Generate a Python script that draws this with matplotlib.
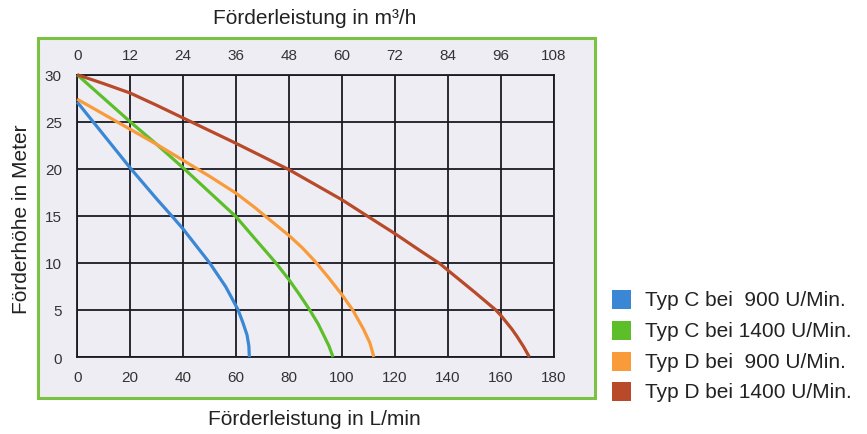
import matplotlib
matplotlib.use("Agg")
import matplotlib.pyplot as plt
from matplotlib.patches import Rectangle

plt.rcParams['font.family'] = ['Liberation Sans', 'DejaVu Sans']

# Förderleistung (L/min) and Förderhöhe (m)
blue_x = [0, 10, 20, 30, 36, 40, 45, 50, 53, 56, 58.5, 60.75, 62.5, 64.1, 64.8, 65]
blue_y = [27.1, 23.6, 20.1, 16.8, 14.9, 13.6, 11.8, 10.0, 8.75, 7.5, 6.2, 5.0, 3.7, 2.36, 1.2, 0]

green_x = [0, 10, 20, 30, 40, 50, 60, 67, 75, 80, 84, 88, 91, 93.1, 95, 96.6]
green_y = [30, 27.5, 25.0, 22.6, 20.1, 17.5, 14.9, 12.6, 10.0, 8.2, 6.6, 4.9, 3.5, 2.3, 1.2, 0]

orange_x = [0, 10, 20, 30, 40, 50, 60, 67, 70, 80, 85, 90, 95, 100, 104, 108, 110.5, 112]
orange_y = [27.4, 25.8, 24.2, 22.6, 20.9, 19.2, 17.4, 15.9, 15.2, 12.9, 11.6, 10.1, 8.4, 6.6, 5.0, 3.0, 1.5, 0]

brown_x = [0, 10, 20, 30, 40, 50, 60, 70, 80, 90, 100, 109.4, 120, 130, 137, 140,
           150, 158, 160, 164, 166, 168.5, 170.7]
brown_y = [30, 29.05, 28.05, 26.75, 25.4, 24.05, 22.7, 21.3, 19.9, 18.3, 16.7, 15.0, 13.1,
           11.2, 9.9, 9.2, 6.9, 5.0, 4.4, 3.0, 2.2, 1.1, 0]

labels = ['Typ C bei  900 U/Min.', 'Typ C bei 1400 U/Min.',
          'Typ D bei  900 U/Min.', 'Typ D bei 1400 U/Min.']
colors = ['#3a87d6', '#5cbf2a', '#f99b3a', '#b84a2a']

lmin_ticks = [0, 20, 40, 60, 80, 100, 120, 140, 160, 180]
m3h_ticks = [0, 12, 24, 36, 48, 60, 72, 84, 96, 108]
y_ticks = [0, 5, 10, 15, 20, 25, 30]

fig = plt.figure(figsize=(8.67, 4.35), dpi=100)

# green framed panel, behind the axes
fig.patches.append(Rectangle((0.044, 0.083), 0.642, 0.827, transform=fig.transFigure,
                             facecolor='#efedf4', edgecolor='#7cc242', linewidth=2.2,
                             zorder=-1))

ax = fig.add_axes([0.089, 0.177, 0.550, 0.649])
ax.set_facecolor('none')

ax.set_xlim(0, 180)
ax.set_ylim(0, 30)
ax.set_xticks(lmin_ticks)
ax.set_yticks(y_ticks)
ax.grid(True, color='#1a1a22', linewidth=1.3)
ax.set_axisbelow(True)
for sp in ax.spines.values():
    sp.set_color('#1a1a22')
    sp.set_linewidth(1.3)
ax.tick_params(length=0, labelsize=11, labelcolor='#333333')
ax.tick_params(axis='x', pad=9)
ax.tick_params(axis='y', pad=11)

series = [(blue_x, blue_y), (green_x, green_y), (orange_x, orange_y), (brown_x, brown_y)]
for (xs, ys), c in zip(series, colors):
    ax.plot(xs, ys, color=c, linewidth=2.3, solid_capstyle='butt',
            solid_joinstyle='round', clip_on=False, zorder=3)

top = ax.secondary_xaxis('top', functions=(lambda x: x * 0.6, lambda x: x / 0.6))
top.set_xticks(m3h_ticks)
top.tick_params(length=0, labelsize=11, labelcolor='#333333', pad=9)
top.spines['top'].set_visible(False)

fig.text(0.363, 0.958, 'Förderleistung in m³/h', ha='center', va='center',
         fontsize=15, color='#222222')
fig.text(0.363, 0.035, 'Förderleistung in L/min', ha='center', va='center',
         fontsize=15, color='#222222')
fig.text(0.025, 0.495, 'Förderhöhe in Meter', ha='center', va='center',
         rotation=90, fontsize=15, color='#222222')

# legend as coloured squares with text
rows_y = [0.310, 0.237, 0.166, 0.097]
for lab, c, yy in zip(labels, colors, rows_y):
    fig.patches.append(Rectangle((0.706, yy - 0.022), 0.022, 0.044,
                                 transform=fig.transFigure, facecolor=c,
                                 edgecolor='none'))
    fig.text(0.744, yy, lab, ha='left', va='center', fontsize=15, color='#222222')

fig.savefig('out.png', dpi=100)
